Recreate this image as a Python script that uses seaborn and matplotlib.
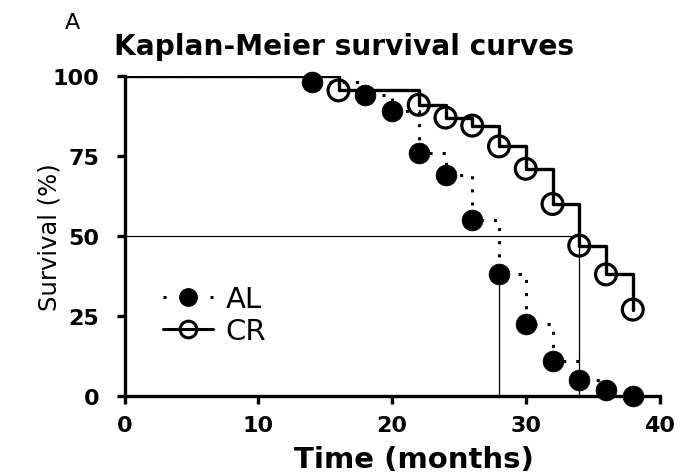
import matplotlib
matplotlib.use("Agg")
import matplotlib.pyplot as plt
from matplotlib.lines import Line2D
import seaborn as sns
import pandas as pd

# ---- data ----
al_time = [14, 18, 20, 22, 24, 26, 28, 30, 32, 34, 36, 38]
al_surv = [98, 94, 89, 76, 69, 55, 38, 22.5, 11, 5, 2, 0]
cr_time = [16, 22, 24, 26, 28, 30, 32, 34, 36, 38]
cr_surv = [95.5, 91, 87, 84.5, 78, 71, 60, 47, 38, 27]
median_al = 28
median_cr = 34
x_ticks = [0, 10, 20, 30, 40]
y_ticks = [0, 25, 50, 75, 100]
title = "Kaplan-Meier survival curves"
xlabel = "Time (months)"
ylabel = "Survival (%)"
labels = ["AL", "CR"]

sns.set_style("ticks")
plt.rcParams["font.family"] = ["DejaVu Sans"]
plt.rcParams["text.color"] = "black"
plt.rcParams["axes.labelcolor"] = "black"
plt.rcParams["xtick.color"] = "black"
plt.rcParams["ytick.color"] = "black"
plt.rcParams["axes.edgecolor"] = "black"

W, H = 685, 477
fig = plt.figure(figsize=(W / 100, H / 100), dpi=100)
x0, x1 = 124.5, 659.5
y_top, y_bot = 77, 397
ax = fig.add_axes([x0 / W, (H - y_bot) / H, (x1 - x0) / W, (y_bot - y_top) / H])

al_line = pd.DataFrame({"t": [0] + al_time, "s": [100] + al_surv})
cr_line = pd.DataFrame({"t": [0] + cr_time, "s": [100] + cr_surv})
al_pts = pd.DataFrame({"t": al_time, "s": al_surv})
cr_pts = pd.DataFrame({"t": cr_time, "s": cr_surv})

# median reference lines
al_at_med = al_surv[al_time.index(median_al)]
ax.plot([0, median_cr], [50, 50], color="black", lw=0.9, zorder=1)
ax.plot([median_al, median_al], [0, al_at_med], color="black", lw=0.9, zorder=1)
ax.plot([median_cr, median_cr], [0, 50], color="black", lw=0.9, zorder=1)

sns.lineplot(data=cr_line, x="t", y="s", ax=ax, color="black", lw=2.4,
             drawstyle="steps-post", estimator=None, sort=False, zorder=2)
sns.lineplot(data=al_line, x="t", y="s", ax=ax, color="black", lw=2.2,
             linestyle=(0, (1, 3.3)), drawstyle="steps-post",
             estimator=None, sort=False, zorder=2)

sns.scatterplot(data=cr_pts, x="t", y="s", ax=ax, marker="o", s=15**2,
                facecolor="none", edgecolor="black", linewidth=2.3,
                zorder=3, clip_on=False)
sns.scatterplot(data=al_pts, x="t", y="s", ax=ax, marker="o", s=15**2,
                color="black", edgecolor="black", linewidth=0.5,
                zorder=4, clip_on=False)

ax.set_xlim(0, 40)
ax.set_ylim(0, 100)
ax.set_xticks(x_ticks)
ax.set_yticks(y_ticks)
ax.set_xticklabels([str(v) for v in x_ticks])
ax.set_yticklabels([str(v) for v in y_ticks])
for lab in ax.get_xticklabels() + ax.get_yticklabels():
    lab.set_fontweight("bold")
    lab.set_fontsize(16)
    lab.set_color("black")
ax.tick_params(axis="both", direction="out", length=6, width=2.4, color="black")
ax.tick_params(axis="x", pad=8)
ax.tick_params(axis="y", pad=12)
sns.despine(ax=ax)
for side in ["left", "bottom"]:
    ax.spines[side].set_linewidth(2.4)
    ax.spines[side].set_color("black")

ax.set_title(title, fontsize=20.2, fontweight="bold", color="black",
             x=(344 - x0) / (x1 - x0), y=(y_bot - 55) / (y_bot - y_top), pad=0)
ax.set_xlabel(xlabel, fontsize=21, fontweight="bold", va="baseline", color="black")
ax.xaxis.set_label_coords((414 - x0) / (x1 - x0), (y_bot - 468) / (y_bot - y_top))
ax.set_ylabel(ylabel, fontsize=17.5, color="black")
ax.yaxis.set_label_coords((62 - x0) / (x1 - x0), 0.5)

fig.text(65 / W, 1 - 29 / H, "A", fontsize=16, ha="left", va="baseline", color="black")

handles = [
    Line2D([], [], color="black", lw=2.2, linestyle=(0, (1, 14.4)), marker="o",
           markersize=12.5, markerfacecolor="black", markeredgecolor="black"),
    Line2D([], [], color="black", lw=2.2, linestyle="-", marker="o",
           markersize=12, markerfacecolor="none", markeredgecolor="black",
           markeredgewidth=2.2),
]
leg = ax.legend(handles, labels, loc="upper left",
                bbox_to_anchor=((162.7 - x0) / (x1 - x0), (y_bot - 286) / (y_bot - y_top)),
                frameon=False, fontsize=21, handlelength=1.71, handletextpad=0.45,
                labelspacing=0.15, borderpad=0, borderaxespad=0)
for t in leg.get_texts():
    t.set_color("black")

fig.savefig("out.png", dpi=100)
